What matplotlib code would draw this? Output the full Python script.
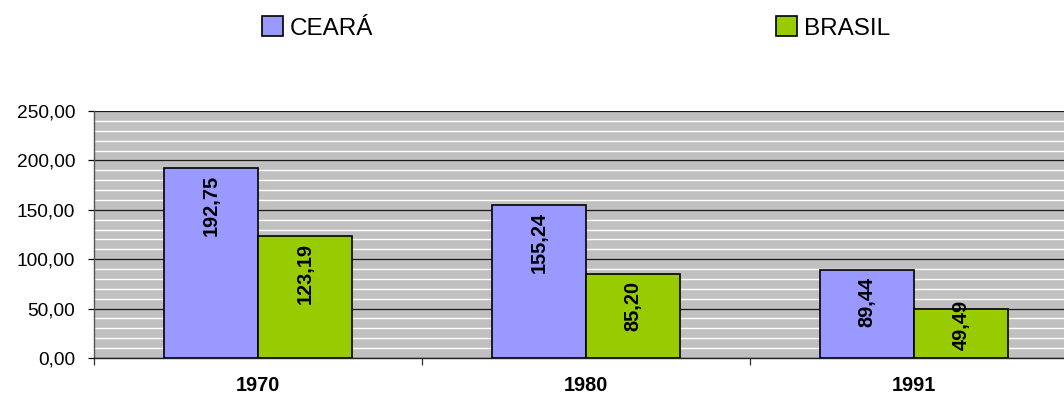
import matplotlib
matplotlib.use("Agg")
import matplotlib.pyplot as plt
from matplotlib.patches import Patch
from matplotlib.ticker import MultipleLocator, FixedLocator, FuncFormatter

# Data
years = ["1970", "1980", "1991"]
ceara = [192.75, 155.24, 89.44]
brasil = [123.19, 85.20, 49.49]
series_names = ["CEARÁ", "BRASIL"]

COLOR_CE = "#9999FF"
COLOR_BR = "#99CC00"
BG = "#C0C0C0"

plt.rcParams["font.family"] = ["Liberation Sans", "DejaVu Sans"]

W, H, DPI = 1064, 396, 100
fig = plt.figure(figsize=(W / DPI, H / DPI), dpi=DPI)

# plot area: three category slots, the last one running past the right edge
left_px, top_px, bottom_px, slot_px = 94, 111, 358, 328
ax = fig.add_axes([left_px / W, 1 - bottom_px / H,
                   3 * slot_px / W, (bottom_px - top_px) / H])
ax.set_facecolor(BG)
ax.set_xlim(0, 3)
ax.set_ylim(0, 250)

bar_w = 0.286
centers = [i + 0.5 for i in range(len(years))]
x_ce = [c - bar_w / 2 for c in centers]
x_br = [c + bar_w / 2 for c in centers]
bars_ce = ax.bar(x_ce, ceara, width=bar_w, color=COLOR_CE, edgecolor="black",
                 linewidth=1.2, zorder=3)
bars_br = ax.bar(x_br, brasil, width=bar_w, color=COLOR_BR, edgecolor="black",
                 linewidth=1.2, zorder=3)

# gridlines: white every 10, dark every 50
ax.yaxis.set_major_locator(MultipleLocator(50))
ax.yaxis.set_minor_locator(MultipleLocator(10))
ax.grid(axis="y", which="minor", color="white", linewidth=1.0, zorder=1)
ax.grid(axis="y", which="major", color="#1a1a1a", linewidth=0.9, zorder=2)
ax.set_axisbelow(True)
ax.yaxis.set_major_formatter(FuncFormatter(lambda v, p: f"{v:.2f}".replace(".", ",")))
ax.tick_params(axis="y", which="major", direction="out", length=4.5, width=0.9,
               pad=9, labelsize=13.8, colors="black")
ax.tick_params(axis="y", which="minor", length=0)

# x axis: boundary tick marks, labels at category centers
ax.xaxis.set_major_locator(FixedLocator([0, 1, 2, 3]))
ax.xaxis.set_major_formatter(FuncFormatter(lambda v, p: ""))
ax.xaxis.set_minor_locator(FixedLocator(centers))
ax.set_xticklabels(years, minor=True)
ax.tick_params(axis="x", which="major", direction="out", length=5, width=0.9,
               color="#333333")
ax.tick_params(axis="x", which="minor", length=0, pad=13, labelsize=14.4)
for t in ax.get_xticklabels(minor=True):
    t.set_fontweight("bold")

for s in ["top", "right"]:
    ax.spines[s].set_visible(False)
ax.spines["left"].set_color("#555555")
ax.spines["left"].set_linewidth(1.0)
ax.spines["bottom"].set_color("#222222")
ax.spines["bottom"].set_linewidth(1.0)

# value labels inside bars
labels = []
for bars, vals in ((bars_ce, ceara), (bars_br, brasil)):
    for b, v in zip(bars, vals):
        t = ax.annotate(f"{v:.2f}".replace(".", ","),
                        xy=(b.get_x() + b.get_width() / 2, v),
                        xytext=(0, -5), textcoords="offset points",
                        rotation=90, ha="center", va="top",
                        fontsize=14.4, fontweight="bold", zorder=5)
        labels.append((t, b))

fig.canvas.draw()
renderer = fig.canvas.get_renderer()
base_px = ax.transData.transform((0, 0))[1]
for t, b in labels:
    bb = t.get_window_extent(renderer)
    if bb.y0 < base_px + 8:
        t.xy = (t.xy[0], 0)
        t.set_position((0, 6))
        t.set_va("bottom")

# legend entries
for name, col, xpx in ((series_names[0], COLOR_CE, 262), (series_names[1], COLOR_BR, 776)):
    h = Patch(facecolor=col, edgecolor="black", linewidth=1.2, label=name)
    fig.legend(handles=[h], loc="center left",
               bbox_to_anchor=(xpx / W, 1 - 28 / H), frameon=False,
               borderpad=0, borderaxespad=0, handlelength=0.85, handleheight=0.85,
               handletextpad=0.3, prop={"size": 17.5})

fig.savefig("out.png", dpi=DPI)
